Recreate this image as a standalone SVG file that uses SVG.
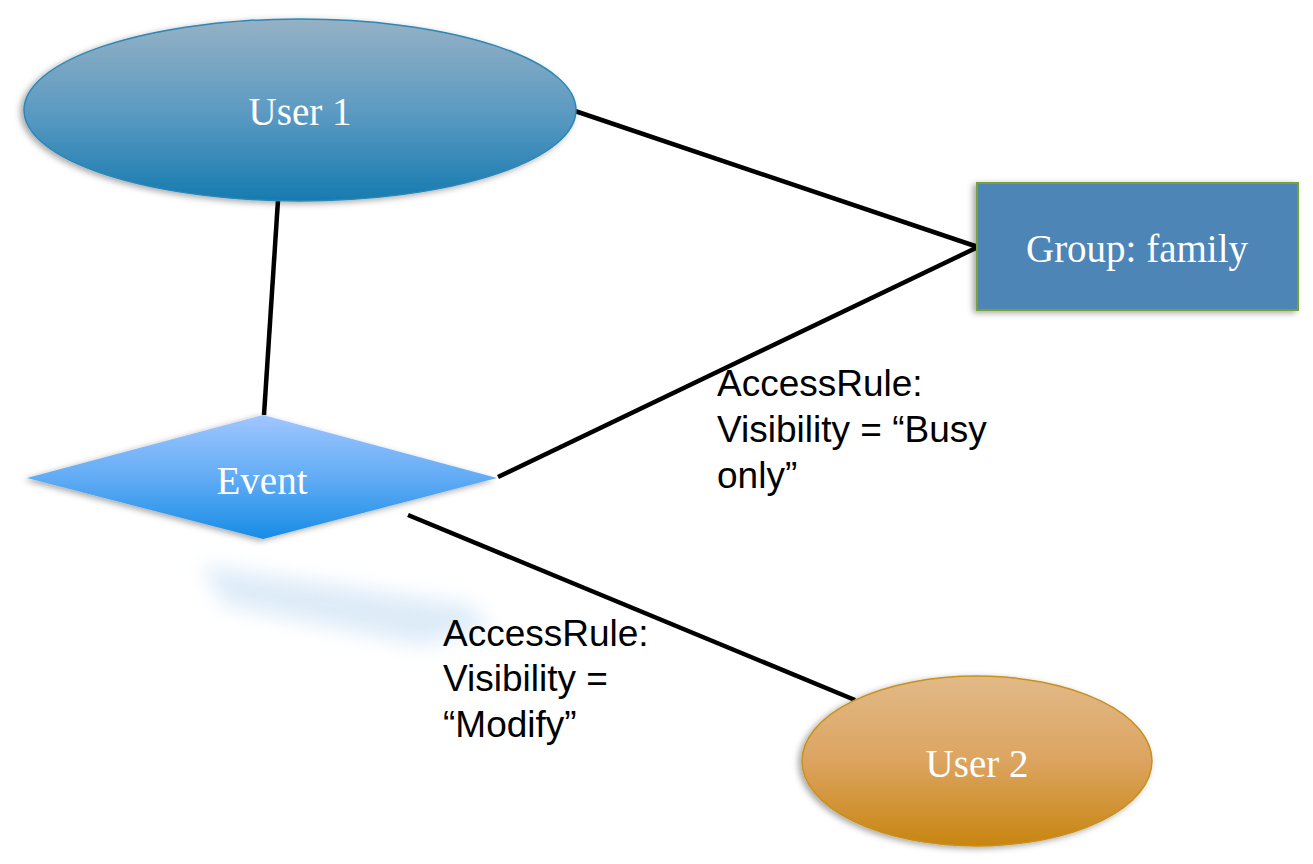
<svg xmlns="http://www.w3.org/2000/svg" width="1313" height="864" viewBox="0 0 1313 864">
<style>
.node-label{font-family:"Liberation Serif","Times New Roman",serif;font-size:39px;fill:#ffffff;text-anchor:middle}
.edge-label{font-family:"Liberation Sans",Arial,sans-serif;font-size:37px;fill:#000000}
.edge{stroke:#000000;stroke-width:4.5;fill:none;stroke-linecap:butt}
</style>
<defs>
<linearGradient id="gU1" x1="0" y1="0" x2="0" y2="1">
<stop offset="0" stop-color="#95b1c5"/>
<stop offset="0.5" stop-color="#5d9bc2"/>
<stop offset="1" stop-color="#167bb0"/>
</linearGradient>
<linearGradient id="gU2" x1="0" y1="0" x2="0" y2="1">
<stop offset="0" stop-color="#e2b987"/>
<stop offset="0.5" stop-color="#dca460"/>
<stop offset="1" stop-color="#c8850f"/>
</linearGradient>
<linearGradient id="gEv" x1="0" y1="0" x2="0" y2="1">
<stop offset="0" stop-color="#a0c6ff"/>
<stop offset="0.5" stop-color="#62acf5"/>
<stop offset="1" stop-color="#178ce6"/>
</linearGradient>
<filter id="shadow" x="-10%" y="-20%" width="120%" height="140%">
<feDropShadow dx="-3" dy="2" stdDeviation="3" flood-color="#000000" flood-opacity="0.35"/>
</filter>
<filter id="blur" x="-30%" y="-100%" width="160%" height="300%">
<feGaussianBlur stdDeviation="10"/>
</filter>
</defs>

<g id="connectors">
<line class="edge" x1="575" y1="111" x2="978" y2="247"/>
<line class="edge" x1="978" y1="247" x2="498" y2="477"/>
<line class="edge" x1="278" y1="200" x2="264" y2="415"/>
<line class="edge" x1="408" y1="515" x2="855" y2="700"/>
</g>

<g id="user1">
<ellipse cx="300" cy="110" rx="276" ry="91" fill="url(#gU1)" stroke="#2b87b6" stroke-width="1.5" filter="url(#shadow)"/>
<text class="node-label" x="300" y="125">User 1</text>
</g>

<g id="group-family">
<rect x="977" y="183" width="321" height="127" fill="#4d85b6" stroke="#78a236" stroke-width="2" filter="url(#shadow)"/>
<text class="node-label" x="1137" y="262">Group: family</text>
</g>

<g id="event">
<path d="M200 565 L470 605 L490 628 L420 645 L225 605 Z" fill="#c2dcf3" opacity="0.55" filter="url(#blur)"/>
<polygon points="27,478 263,415 497,478 263,539" fill="url(#gEv)" filter="url(#shadow)"/>
<text class="node-label" x="262" y="494">Event</text>
</g>

<g id="user2">
<ellipse cx="977" cy="761" rx="175" ry="85" fill="url(#gU2)" stroke="#c8901f" stroke-width="1.5" filter="url(#shadow)"/>
<text class="node-label" x="977" y="777">User 2</text>
</g>

<g id="label-busy">
<text class="edge-label" x="717" y="396">AccessRule:</text>
<text class="edge-label" x="717" y="442">Visibility = “Busy</text>
<text class="edge-label" x="717" y="488">only”</text>
</g>

<g id="label-modify">
<text class="edge-label" x="443" y="646">AccessRule:</text>
<text class="edge-label" x="443" y="691">Visibility =</text>
<text class="edge-label" x="443" y="737">“Modify”</text>
</g>
</svg>
